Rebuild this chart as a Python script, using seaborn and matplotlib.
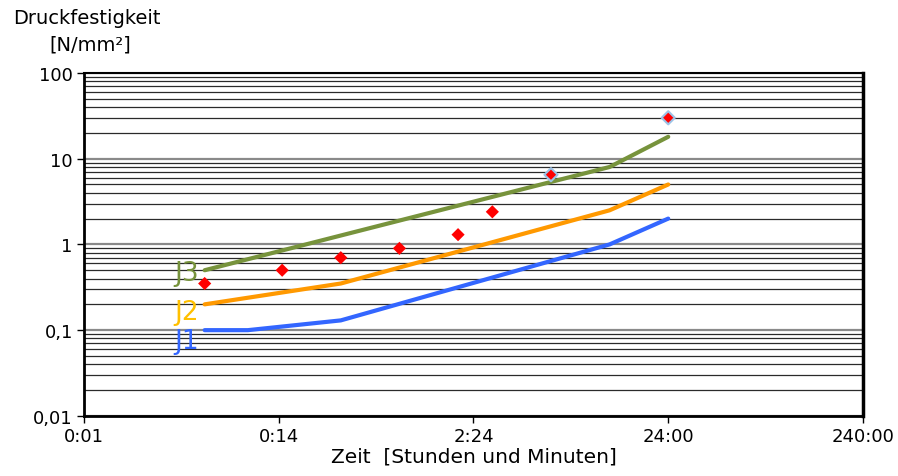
import pandas as pd
import numpy as np
import matplotlib
matplotlib.use("Agg")
import matplotlib.pyplot as plt
import seaborn as sns
from matplotlib.ticker import FixedLocator, FixedFormatter, LogLocator, NullLocator, NullFormatter

sns.set_style("white")
plt.rcParams['font.family'] = ['DejaVu Sans']
plt.rcParams['text.color'] = 'black'
plt.rcParams['xtick.color'] = 'black'
plt.rcParams['ytick.color'] = 'black'
plt.rcParams['axes.labelcolor'] = 'black'

# Zeit in Stunden
j1_t = [0.1, 1 / 6, 0.5, 12, 24]
j1_v = [0.1, 0.1, 0.13, 1.0, 2.0]
j2_t = [0.1, 0.5, 12, 24]
j2_v = [0.2, 0.35, 2.5, 5.0]
j3_t = [0.1, 12, 24]
j3_v = [0.5, 8.0, 18.0]

mess_t = [0.1, 0.25, 0.5, 1, 2, 3, 6, 24]
mess_v = [0.35, 0.5, 0.7, 0.9, 1.3, 2.4, 6.5, 30]

x_ticks = [0.024, 0.24, 2.4, 24, 240]
x_labels = ["0:01", "0:14", "2:24", "24:00", "240:00"]
y_ticks = [0.01, 0.1, 1, 10, 100]
y_labels = ["0,01", "0,1", "1", "10", "100"]

kurven = pd.concat([
    pd.DataFrame({"Zeit": j1_t, "Festigkeit": j1_v, "Klasse": "J1"}),
    pd.DataFrame({"Zeit": j2_t, "Festigkeit": j2_v, "Klasse": "J2"}),
    pd.DataFrame({"Zeit": j3_t, "Festigkeit": j3_v, "Klasse": "J3"}),
])
messung = pd.DataFrame({"Zeit": mess_t, "Festigkeit": mess_v})

farben = {"J1": "#3366FF", "J2": "#FF9900", "J3": "#77933C"}
label_farben = {"J1": "#3366FF", "J2": "#FFC000", "J3": "#77933C"}

fig = plt.figure(figsize=(8.98, 4.77), dpi=100)
ax = fig.add_axes([0.0935, 0.126, 0.8675, 0.719])

ax.set_xscale("log")
ax.set_yscale("log")
ax.set_xlim(0.024, 240)
ax.set_ylim(0.01, 100)

# Gitterlinien
ax.yaxis.set_minor_locator(LogLocator(base=10, subs=np.arange(2, 10)))
ax.yaxis.set_minor_formatter(NullFormatter())
ax.grid(axis="y", which="major", color="#8a8a8a", lw=1.6)
ax.grid(axis="y", which="minor", color="#2a2a2a", lw=0.9)
ax.grid(axis="x", visible=False)
ax.set_axisbelow(True)

sns.lineplot(data=kurven, x="Zeit", y="Festigkeit", hue="Klasse", palette=farben,
             lw=3, legend=False, ax=ax, estimator=None, sort=False,
             solid_capstyle="round")

# letzte zwei Messpunkte mit hellblauem Rand
rand = ["none"] * (len(mess_t) - 2) + ["#9DC3E6"] * 2
sns.scatterplot(data=messung, x="Zeit", y="Festigkeit", marker="D", s=45,
                color="#FF0000", edgecolor=rand, linewidth=1.5, ax=ax, zorder=5)

for name, t, v, dy in [("J3", j3_t, j3_v, -0.035), ("J2", j2_t, j2_v, -0.09), ("J1", j1_t, j1_v, -0.13)]:
    ax.text(t[0] * 0.94, v[0] * (10 ** dy), name, color=label_farben[name], fontsize=19,
            ha="right", va="center", fontfamily="DejaVu Sans")

ax.xaxis.set_major_locator(FixedLocator(x_ticks))
ax.xaxis.set_major_formatter(FixedFormatter(x_labels))
ax.xaxis.set_minor_locator(NullLocator())
ax.yaxis.set_major_locator(FixedLocator(y_ticks))
ax.yaxis.set_major_formatter(FixedFormatter(y_labels))

for lab in ax.get_xticklabels():
    lab.set_fontsize(13)
for lab in ax.get_yticklabels():
    lab.set_fontsize(13)

ax.tick_params(axis="both", which="major", direction="out", length=5, width=1,
               color="black", left=True, bottom=True, pad=3)
ax.tick_params(axis="y", which="minor", left=False)

for s in ax.spines.values():
    s.set_color("black")
    s.set_linewidth(1.5)
ax.spines["left"].set_linewidth(2)
ax.spines["bottom"].set_linewidth(2)
ax.spines["right"].set_linewidth(2.5)

ax.set_xlabel("Zeit  [Stunden und Minuten]", fontsize=14.5, labelpad=1)
ax.set_ylabel("")

fig.text(0.097, 0.962, "Druckfestigkeit", ha="center", va="center", fontsize=14)
fig.text(0.100, 0.905, "[N/mm²]", ha="center", va="center", fontsize=14)

fig.savefig("out.png", dpi=100)
